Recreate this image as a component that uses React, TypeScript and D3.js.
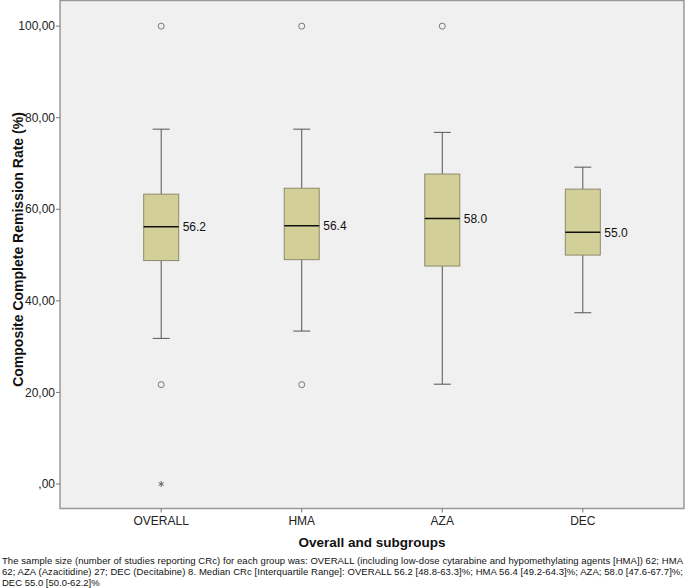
import React from "react";
import * as d3 from "d3";

const categories = ["OVERALL", "HMA", "AZA", "DEC"];
const q1 = [48.8, 49.0, 47.6, 50.0];
const medians = [56.2, 56.4, 58.0, 55.0];
const q3 = [63.3, 64.6, 67.7, 64.4];
const whiskerLow = [31.8, 33.4, 21.8, 37.4];
const whiskerHigh = [77.5, 77.5, 76.8, 69.2];
const medianLabels = ["56.2", "56.4", "58.0", "55.0"];
const outlierGroups = ["OVERALL", "OVERALL", "HMA", "HMA", "AZA"];
const outlierValues = [100, 21.7, 100, 21.7, 100];
const extremeGroups = ["OVERALL"];
const extremeValues = [0];
const yTicks = [0, 20, 40, 60, 80, 100];
const yTickLabels = [",00", "20,00", "40,00", "60,00", "80,00", "100,00"];
const xTitle = "Overall and subgroups";
const yTitle = "Composite Complete Remission Rate (%)";
const footnote = [
  "The sample size (number of studies reporting CRc) for each group was: OVERALL (including low-dose cytarabine and hypomethylating agents [HMA]) 62; HMA",
  "62; AZA (Azacitidine) 27; DEC (Decitabine) 8. Median CRc [Interquartile Range]: OVERALL 56.2 [48.8-63.3]%; HMA 56.4 [49.2-64.3]%; AZA; 58.0 [47.6-67.7]%;",
  "DEC 55.0 [50.0-62.2]%",
];

const W = 685;
const H = 588;
const plot = { left: 60, right: 684, top: 0.5, bottom: 508.5 };

export default function App() {
  const y = d3.scaleLinear().domain([-5.35, 105.6]).range([plot.bottom, plot.top]);
  const x = d3.scalePoint<string>().domain(categories).range([plot.left, plot.right]).padding(0.72);
  const boxW = 35;
  const capW = 17;
  const font = "Arial, 'Liberation Sans', sans-serif";

  const starPath = (cx: number, cy: number, r: number) => {
    const segs: string[] = [];
    for (let i = 0; i < 3; i++) {
      const a = (Math.PI / 3) * i + Math.PI / 2;
      segs.push(`M${cx - r * Math.cos(a)},${cy - r * Math.sin(a)}L${cx + r * Math.cos(a)},${cy + r * Math.sin(a)}`);
    }
    return segs.join("");
  };

  return (
    <svg width={W} height={H} style={{ position: "absolute", left: 0, top: 0, background: "#fff" }} fontFamily={font}>
      <rect x={plot.left} y={plot.top} width={plot.right - plot.left} height={plot.bottom - plot.top} fill="#f0f0f0" stroke="#999" strokeWidth={1.5} />
      {yTicks.map((t, i) => (
        <g key={"yt" + i}>
          <line x1={plot.left - 4} x2={plot.left} y1={y(t)} y2={y(t)} stroke="#777" />
          <text x={plot.left - 5} y={y(t)} dy="0.35em" textAnchor="end" fontSize={12} fill="#222">
            {yTickLabels[i]}
          </text>
        </g>
      ))}
      {categories.map((c) => (
        <g key={"xt" + c}>
          <line x1={x(c)!} x2={x(c)!} y1={plot.bottom} y2={plot.bottom + 4} stroke="#777" />
          <text x={x(c)!} y={plot.bottom + 16} textAnchor="middle" fontSize={12} fill="#222">
            {c}
          </text>
        </g>
      ))}
      {categories.map((c, i) => {
        const cx = x(c)!;
        return (
          <g key={"box" + c}>
            <line x1={cx} x2={cx} y1={y(q3[i])} y2={y(whiskerHigh[i])} stroke="#555" />
            <line x1={cx} x2={cx} y1={y(q1[i])} y2={y(whiskerLow[i])} stroke="#555" />
            <line x1={cx - capW / 2} x2={cx + capW / 2} y1={y(whiskerHigh[i])} y2={y(whiskerHigh[i])} stroke="#555" />
            <line x1={cx - capW / 2} x2={cx + capW / 2} y1={y(whiskerLow[i])} y2={y(whiskerLow[i])} stroke="#555" />
            <rect x={cx - boxW / 2} y={y(q3[i])} width={boxW} height={y(q1[i]) - y(q3[i])} fill="#d3cf98" stroke="#8c8a6a" />
            <line x1={cx - boxW / 2} x2={cx + boxW / 2} y1={y(medians[i])} y2={y(medians[i])} stroke="#111" strokeWidth={1.6} />
            <text x={cx + boxW / 2 + 4} y={y(medians[i])} dy="0.38em" fontSize={12} fill="#111">
              {medianLabels[i]}
            </text>
          </g>
        );
      })}
      {outlierValues.map((v, i) => (
        <circle key={"o" + i} cx={x(outlierGroups[i])!} cy={y(v)} r={3} fill="none" stroke="#777" />
      ))}
      {extremeValues.map((v, i) => (
        <path key={"e" + i} d={starPath(x(extremeGroups[i])!, y(v), 3)} stroke="#666" fill="none" />
      ))}
      <text x={(plot.left + plot.right) / 2} y={547} textAnchor="middle" fontSize={13.5} fontWeight="bold" fill="#111">
        {xTitle}
      </text>
      <text transform={`translate(23,${(plot.top + plot.bottom) / 2 - 5}) rotate(-90)`} textAnchor="middle" fontSize={14} fontWeight="bold" fill="#111">
        {yTitle}
      </text>
      {footnote.map((line, i) => (
        <text
          key={"f" + i}
          x={2}
          y={563.5 + i * 11}
          fontSize={9.5}
          fill="#111"
          {...(i < 2 ? { textLength: 681, lengthAdjust: "spacing" } : {})}
        >
          {line}
        </text>
      ))}
    </svg>
  );
}
